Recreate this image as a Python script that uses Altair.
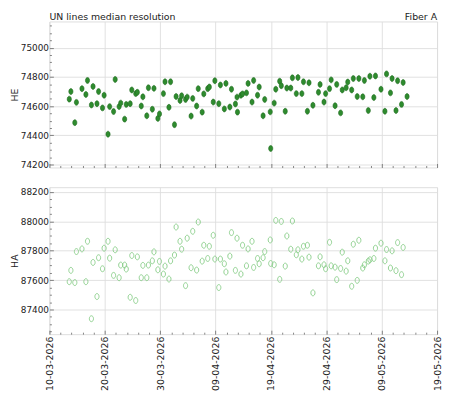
import altair as alt
import pandas as pd
from datetime import date, timedelta

# ---- data ----
times = [
    "2026-03-13T14:00", "2026-03-13T21:00", "2026-03-14T14:00", "2026-03-14T21:00",
    "2026-03-15T21:00", "2026-03-16T14:00", "2026-03-16T21:00", "2026-03-17T14:00",
    "2026-03-17T21:00", "2026-03-18T14:00", "2026-03-18T21:00", "2026-03-19T14:00",
    "2026-03-19T21:00", "2026-03-20T14:00", "2026-03-20T21:00", "2026-03-21T14:00",
    "2026-03-21T21:00", "2026-03-22T14:00", "2026-03-22T21:00", "2026-03-23T14:00",
    "2026-03-23T21:00", "2026-03-24T14:00", "2026-03-24T21:00", "2026-03-25T14:00",
    "2026-03-25T21:00", "2026-03-26T14:00", "2026-03-26T21:00", "2026-03-27T14:00",
    "2026-03-27T21:00", "2026-03-28T14:00", "2026-03-28T21:00", "2026-03-29T14:00",
    "2026-03-29T21:00", "2026-03-30T14:00", "2026-03-30T21:00", "2026-03-31T14:00",
    "2026-03-31T21:00", "2026-04-01T14:00", "2026-04-01T21:00", "2026-04-02T14:00",
    "2026-04-02T21:00", "2026-04-03T14:00", "2026-04-03T21:00", "2026-04-04T14:00",
    "2026-04-04T21:00", "2026-04-05T14:00", "2026-04-05T21:00", "2026-04-06T14:00",
    "2026-04-06T21:00", "2026-04-07T14:00", "2026-04-07T21:00", "2026-04-08T14:00",
    "2026-04-08T21:00", "2026-04-09T14:00", "2026-04-09T21:00", "2026-04-10T14:00",
    "2026-04-10T21:00", "2026-04-11T14:00", "2026-04-11T21:00", "2026-04-12T14:00",
    "2026-04-12T21:00", "2026-04-12T23:00", "2026-04-13T14:00", "2026-04-13T21:00",
    "2026-04-14T14:00", "2026-04-14T21:00", "2026-04-15T14:00", "2026-04-15T21:00",
    "2026-04-16T14:00", "2026-04-16T21:00", "2026-04-17T14:00", "2026-04-17T21:00",
    "2026-04-18T21:00", "2026-04-18T23:00", "2026-04-19T14:00", "2026-04-19T21:00",
    "2026-04-20T14:00", "2026-04-20T21:00", "2026-04-21T14:00", "2026-04-21T21:00",
    "2026-04-22T14:00", "2026-04-22T21:00", "2026-04-23T14:00", "2026-04-23T21:00",
    "2026-04-24T14:00", "2026-04-24T21:00", "2026-04-25T14:00", "2026-04-25T21:00",
    "2026-04-26T14:00", "2026-04-27T14:00", "2026-04-27T21:00", "2026-04-28T14:00",
    "2026-04-28T21:00", "2026-04-29T14:00", "2026-04-29T21:00", "2026-04-30T14:00",
    "2026-04-30T21:00", "2026-05-01T14:00", "2026-05-01T21:00", "2026-05-02T14:00",
    "2026-05-02T21:00", "2026-05-03T14:00", "2026-05-03T21:00", "2026-05-04T14:00",
    "2026-05-04T21:00", "2026-05-05T14:00", "2026-05-05T21:00", "2026-05-06T14:00",
    "2026-05-06T21:00", "2026-05-07T14:00", "2026-05-07T21:00", "2026-05-08T21:00",
    "2026-05-09T14:00", "2026-05-09T21:00", "2026-05-10T14:00", "2026-05-10T21:00",
    "2026-05-11T14:00", "2026-05-11T21:00", "2026-05-12T14:00", "2026-05-12T21:00",
    "2026-05-13T14:00",
]

he = [
    74648, 74700, 74487, 74626, 74720, 74680, 74776, 74608, 74735, 74617,
    74700, 74588, 74675, 74408, 74597, 74563, 74783, 74597, 74621, 74511,
    74612, 74617, 74711, 74686, 74695, 74601, 74664, 74534, 74726, 74579,
    74722, 74516, 74547, 74686, 74767, 74592, 74767, 74473, 74666, 74639,
    74671, 74646, 74662, 74532, 74653, 74601, 74720, 74559, 74684, 74720,
    74731, 74628, 74774, 74617, 74745, 74581, 74756, 74594, 74716, 74615,
    74662, 74559, 74675, 74684, 74691, 74756, 74628, 74776, 74675, 74731,
    74534, 74646, 74561, 74310, 74621, 74716, 74771, 74740, 74565, 74724,
    74724, 74794, 74686, 74796, 74686, 74767, 74565, 74760, 74606, 74695,
    74749, 74628, 74686, 74720, 74780, 74603, 74749, 74554, 74711, 74726,
    74765, 74711, 74789, 74666, 74789, 74664, 74776, 74570, 74805, 74659,
    74807, 74716, 74565, 74821, 74691, 74789, 74570, 74774, 74612, 74762,
    74666,
]

ha = [
    87589, 87666, 87583, 87794, 87812, 87589, 87864, 87337, 87720, 87488,
    87752, 87677, 87817, 87864, 87749, 87632, 87806, 87616, 87702, 87702,
    87675, 87483, 87767, 87461, 87758, 87616, 87700, 87616, 87702, 87731,
    87792, 87670, 87727, 87641, 87695, 87607, 87731, 87770, 87961, 87864,
    87810, 87562, 87885, 87684, 87932, 87668, 87995, 87729, 87837, 87747,
    87830, 87905, 87743, 87549, 87743, 87711, 87655, 87763, 87923, 87666,
    87885, None, 87641, 87837, 87697, 87812, 87864, 87686, 87747, 87711,
    87752, 87794, 87873, 87713, 87704, 88006, 87605, 87999, 87695, 87900,
    87810, 88002, 87772, 87806, 87743, 87830, 87837, 87756, 87513, 87697,
    87758, 87704, 87677, 87857, 87697, 87688, 87603, 87679, 87790, 87661,
    87731, 87558, 87844, 87598, 87871, 87682, 87704, 87729, 87738, 87747,
    87817, 87851, 87731, 87808, 87682, 87799, 87664, 87855, 87637, 87822,
    None,
]

title_left = "UN lines median resolution"
title_right = "Fiber A"
he_domain = [74180, 75180]
ha_domain = [87232, 88232]
x_start = date(2026, 3, 10)
x_end = date(2026, 5, 19)

# ---- style ----
FONT = "DejaVu Sans"
TXT = "#222222"
FRAME = "#666666"
W = 393
H1 = 148
H2 = 149
ELLIPSE = "M-0.7,0A0.7,1,0,1,1,0.7,0A0.7,1,0,1,1,-0.7,0Z"

df_top = pd.DataFrame({"time": times, "HE": he})
df_bot = pd.DataFrame({"time": times, "HA": ha})
df_titles = pd.DataFrame({"t": [title_left, title_right], "side": ["left", "right"]})


def dt(d):
    return alt.DateTime(year=d.year, month=d.month, date=d.day)


x_ticks = []
d = x_start
while d <= x_end:
    x_ticks.append(dt(d))
    d += timedelta(days=2)

x_major = "round((datum.value - datetime(2026, 2, 10)) / 864e5) % 10 === 0"
x_scale = alt.Scale(domain=[dt(x_start), dt(x_end)], nice=False)


def x_axis(labels):
    kw = dict(
        values=x_ticks,
        title=None,
        domain=False,
        offset=-4,
        tickSize=4,
        tickColor=FRAME,
        tickWidth=0.8,
        tickDash={"condition": {"test": x_major, "value": [4, 0]}, "value": [0, 2, 4]},
        grid=True,
        gridColor="#dddddd",
        gridWidth=0.9,
        gridOpacity={"condition": {"test": x_major, "value": 1}, "value": 0},
        labelOverlap=False,
        labelFlush=False,
    )
    if labels:
        kw.update(
            labelExpr=f"{x_major} ? timeFormat(datum.value, '%d-%m-%Y') : ''",
            labelAngle=270,
            labelAlign="right",
            labelBaseline="middle",
            labelPadding=2,
            labelFont=FONT,
            labelFontSize=9.5,
            labelColor=TXT,
        )
    else:
        kw.update(labels=False)
    return alt.Axis(**kw)


def y_axis(title, lo, hi):
    vals = list(range(lo, hi + 1, 50))
    major = "datum.value % 200 === 0"
    return alt.Axis(
        values=vals,
        title=title,
        titleFont=FONT,
        titleFontSize=9.5,
        titleFontWeight="normal",
        titleColor=TXT,
        titlePadding=1,
        domain=False,
        offset=-4,
        tickSize=4,
        tickColor=FRAME,
        tickWidth=0.8,
        tickDash={"condition": {"test": major, "value": [4, 0]}, "value": [0, 2, 4]},
        grid=True,
        gridColor="#dddddd",
        gridWidth=0.9,
        gridOpacity={"condition": {"test": major, "value": 1}, "value": 0},
        labelExpr=f"{major} ? format(datum.value, 'd') : ''",
        labelOverlap=False,
        labelFlush=False,
        labelPadding=1,
        labelFont=FONT,
        labelFontSize=9,
        labelColor=TXT,
    )


top_points = alt.Chart(df_top).mark_point(
    shape=ELLIPSE, filled=True, size=36, fill="#2e8b2e", stroke="#1f6a1f",
    strokeWidth=0.6, opacity=1,
).encode(
    x=alt.X("time:T", scale=x_scale, axis=x_axis(False)),
    y=alt.Y("HE:Q", scale=alt.Scale(domain=he_domain, nice=False, zero=False),
            axis=y_axis("HE", 74200, 75150)),
)

title_l = alt.Chart(df_titles).transform_filter("datum.side === 'left'").mark_text(
    align="left", baseline="alphabetic", font=FONT, fontSize=9.5, color=TXT,
).encode(text="t:N", x=alt.value(0), y=alt.value(-2))

title_r = alt.Chart(df_titles).transform_filter("datum.side === 'right'").mark_text(
    align="right", baseline="alphabetic", font=FONT, fontSize=9.5, color=TXT,
).encode(text="t:N", x=alt.value(W), y=alt.value(-2))

top = alt.layer(top_points, title_l, title_r).properties(width=W, height=H1)

bottom = alt.Chart(df_bot).mark_point(
    shape=ELLIPSE, filled=False, size=36, color="#86cc86", strokeWidth=0.9, opacity=1,
).encode(
    x=alt.X("time:T", scale=x_scale, axis=x_axis(True)),
    y=alt.Y("HA:Q", scale=alt.Scale(domain=ha_domain, nice=False, zero=False),
            axis=y_axis("HA", 87250, 88200)),
).properties(width=W, height=H2)

chart = alt.vconcat(top, bottom, spacing=16).properties(
    padding=0,
).configure_view(stroke=FRAME, strokeWidth=1).configure(background="white")

chart.save("out.html", embed_options={"renderer": "svg", "actions": False})
